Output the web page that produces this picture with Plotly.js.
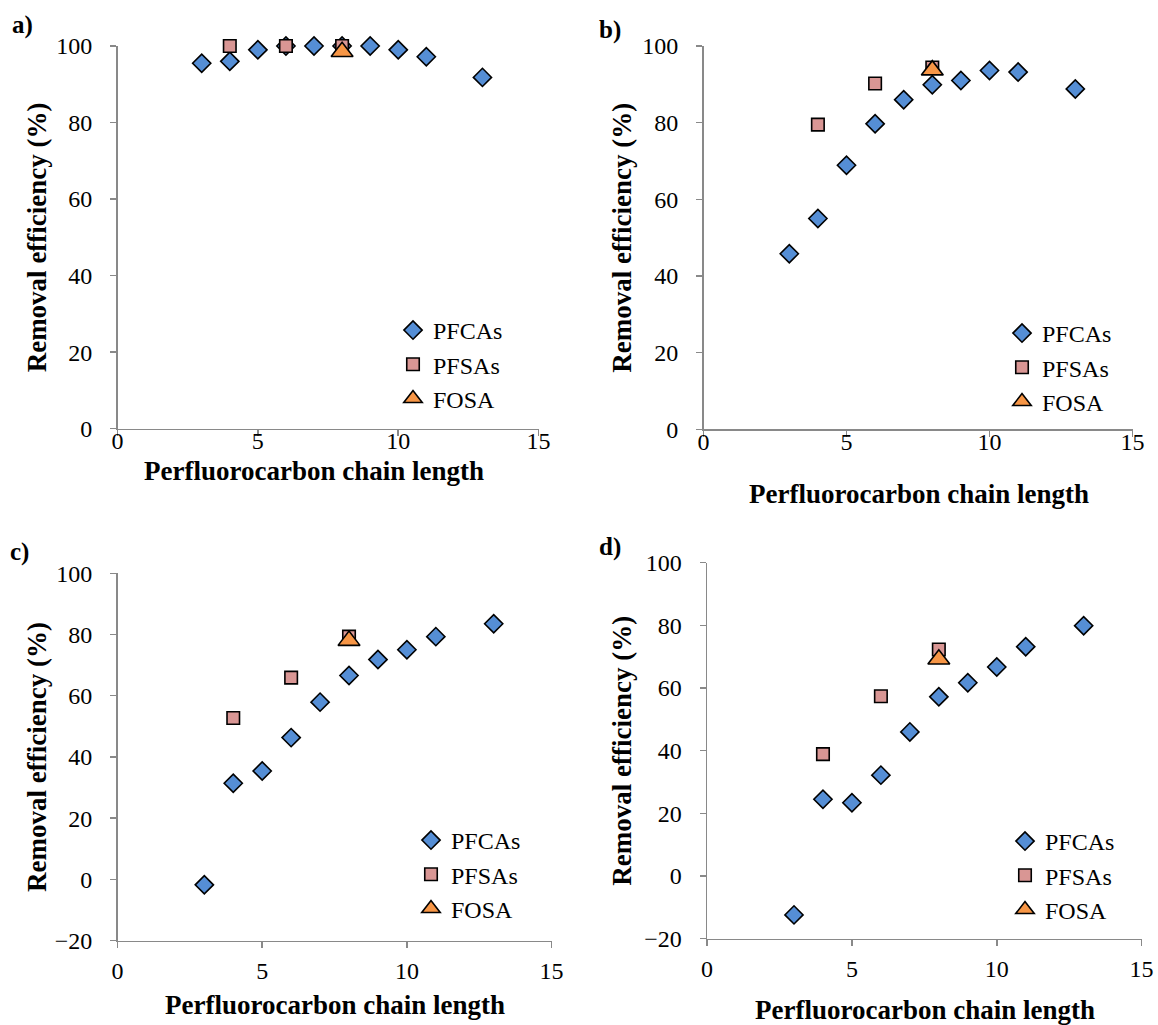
<!DOCTYPE html>
<html>
<head>
<meta charset="utf-8">
<script src="https://cdn.plot.ly/plotly-3.0.1.min.js"></script>
<style>
  html, body { margin: 0; padding: 0; background: #fff; }
  #chart { width: 1158px; height: 1025px; }
</style>
</head>
<body>
<div id="chart"></div>
<script>
// Perfluorocarbon chain lengths of the compounds
const pfcaChain = [3, 4, 5, 6, 7, 8, 9, 10, 11, 13];
const pfsaChain = [4, 6, 8];
const fosaChain = [8];

// Removal efficiency (%) for each panel
const pfcaA = [95.5, 96.0, 99.0, 100, 100, 100, 100, 99.0, 97.2, 91.8];
const pfsaA = [100, 100, 100];
const fosaA = [98.5];

const pfcaB = [45.8, 55.0, 68.9, 79.7, 86.0, 89.9, 91.0, 93.6, 93.2, 88.8];
const pfsaB = [79.5, 90.2, 94.4];
const fosaB = [93.7];

const pfcaC = [-1.8, 31.4, 35.4, 46.3, 57.9, 66.6, 71.8, 75.0, 79.3, 83.5];
const pfsaC = [52.7, 65.9, 79.3];
const fosaC = [78.0];

const pfcaD = [-12.4, 24.5, 23.4, 32.2, 46.0, 57.2, 61.7, 66.7, 73.2, 79.9];
const pfsaD = [38.9, 57.4, 72.3];
const fosaD = [69.2];

const panelLabels = ['a)', 'b)', 'c)', 'd)'];
const xTitle = 'Perfluorocarbon chain length';
const yTitle = 'Removal efficiency (%)';
const seriesNames = ['PFCAs', 'PFSAs', 'FOSA'];

const W = 1158, H = 1025;
const SERIF = 'Liberation Serif, Times New Roman, serif';
const AXIS_GREY = '#898989';

// Plot-area boxes in pixels: [left, right, top, bottom]
const boxes = [
  [117.5, 538.6, 46, 428.7],
  [703.5, 1132.5, 46, 429.3],
  [117.5, 551.6, 573.3, 940.5],
  [707.1, 1141.6, 562.7, 938.7]
];
const yRanges = [[0, 100], [0, 100], [-20, 100], [-20, 100]];

// Title and label anchors in pixels
const xTitlePos = [[314, 471], [919, 494], [335, 1005], [925, 1010]];
const xLabelShift = [-16, -16, 2, 2];
const yTitleX = [37, 622, 37, 622];
const letterPos = [[10, 25], [597, 30], [8, 552], [597, 547]];
const legendPos = [[393, 308], [1002, 311], [411, 818], [1005, 819]];

const panels = [
  [pfcaA, pfsaA, fosaA],
  [pfcaB, pfsaB, fosaB],
  [pfcaC, pfsaC, fosaC],
  [pfcaD, pfsaD, fosaD]
];

const markerStyles = [
  {symbol: 'diamond', size: 14, color: '#558ED5', line: {color: '#000', width: 1.6}},
  {symbol: 'square', size: 12.5, color: '#D99694', line: {color: '#000', width: 1.6}},
  {symbol: 'triangle-up', size: 19, color: '#F79646', line: {color: '#000', width: 1.6}}
];
const xsFor = [pfcaChain, pfsaChain, fosaChain];

const traces = [];
const layout = {
  width: W, height: H,
  margin: {l: 0, r: 0, t: 0, b: 0},
  paper_bgcolor: '#fff', plot_bgcolor: '#fff',
  showlegend: true,
  font: {family: SERIF, size: 23, color: '#000'},
  annotations: []
};

panels.forEach((series, p) => {
  const n = p + 1;
  const suffix = n === 1 ? '' : String(n);
  const xa = 'x' + suffix;
  const ya = 'y' + suffix;
  const legendId = 'legend' + suffix;
  const [l, r, t, b] = boxes[p];

  series.forEach((vals, s) => {
    traces.push({
      type: 'scatter', mode: 'markers',
      x: xsFor[s], y: vals,
      name: seriesNames[s],
      xaxis: xa, yaxis: ya,
      legend: legendId,
      cliponaxis: false,
      marker: markerStyles[s],
      hoverinfo: 'x+y+name'
    });
  });

  const axisCommon = {
    showline: true, linecolor: AXIS_GREY, linewidth: 1.5,
    ticks: 'outside', ticklen: 6, tickwidth: 1.5, tickcolor: AXIS_GREY,
    showgrid: false, zeroline: false, fixedrange: true,
    tickfont: {family: SERIF, size: 24, color: '#000'}
  };
  layout['xaxis' + suffix] = Object.assign({}, axisCommon, {
    domain: [l / W, r / W], anchor: ya,
    range: [0, 15], tick0: 0, dtick: 5,
    ticklabelstandoff: xLabelShift[p]
  });
  layout['yaxis' + suffix] = Object.assign({}, axisCommon, {
    domain: [1 - b / H, 1 - t / H], anchor: xa,
    range: yRanges[p], tick0: 0, dtick: 20,
    ticklabelstandoff: 13
  });

  layout[legendId] = {
    x: legendPos[p][0] / W, y: 1 - legendPos[p][1] / H,
    xanchor: 'left', yanchor: 'top',
    bgcolor: 'rgba(0,0,0,0)', borderwidth: 0,
    font: {family: SERIF, size: 24, color: '#000'},
    itemwidth: 30, tracegroupgap: 0
  };

  // Panel letter
  layout.annotations.push({
    xref: 'paper', yref: 'paper',
    x: letterPos[p][0] / W, y: 1 - letterPos[p][1] / H,
    xanchor: 'left', yanchor: 'middle',
    text: '<b>' + panelLabels[p] + '</b>', showarrow: false,
    font: {family: SERIF, size: 25, color: '#000'}
  });
  // Y-axis title
  layout.annotations.push({
    xref: 'paper', yref: 'paper',
    x: yTitleX[p] / W, y: 1 - ((t + b) / 2) / H,
    xanchor: 'center', yanchor: 'middle', textangle: -90,
    text: '<b>' + yTitle + '</b>', showarrow: false,
    font: {family: SERIF, size: 27, color: '#000'}
  });
  // X-axis title
  layout.annotations.push({
    xref: 'paper', yref: 'paper',
    x: xTitlePos[p][0] / W, y: 1 - xTitlePos[p][1] / H,
    xanchor: 'center', yanchor: 'middle',
    text: '<b>' + xTitle + '</b>', showarrow: false,
    font: {family: SERIF, size: 27, color: '#000'}
  });
});

Plotly.newPlot('chart', traces, layout, {staticPlot: true, displayModeBar: false});
</script>
</body>
</html>
